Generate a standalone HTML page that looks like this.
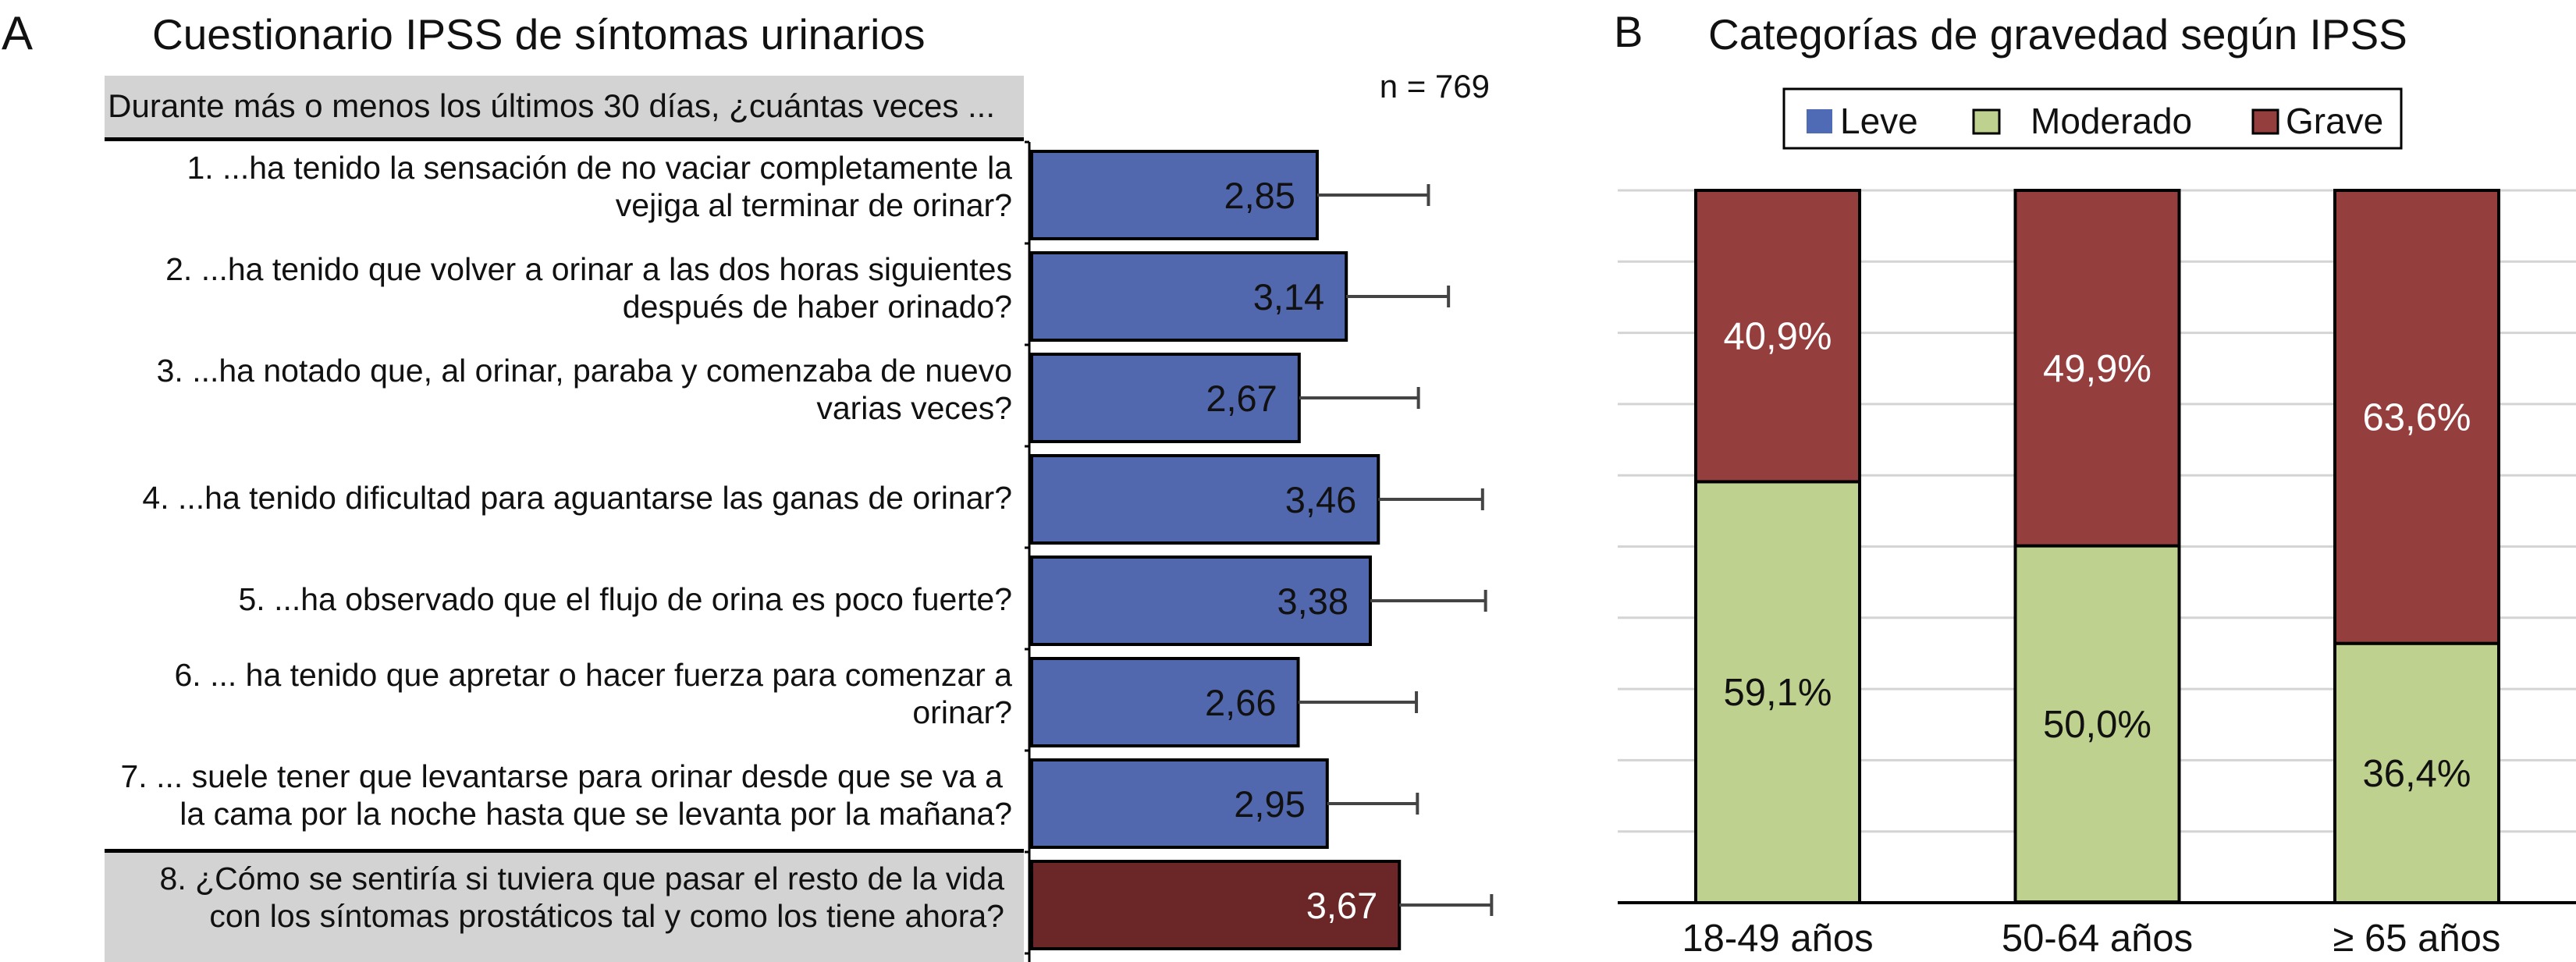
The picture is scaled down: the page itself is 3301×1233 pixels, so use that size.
<!DOCTYPE html>
<html><head><meta charset="utf-8"><style>
html,body{margin:0;padding:0;background:#fff;}
svg{display:block;font-family:"Liberation Sans",Arial,sans-serif;}
</style></head><body>
<svg id="chart" width="3301" height="1233" viewBox="0 0 3301 1233" xmlns="http://www.w3.org/2000/svg">
<g id="panelA">
 <text x="2" y="63" font-size="60" fill="#111">A</text>
 <text x="195" y="63" font-size="55" fill="#111">Cuestionario IPSS de síntomas urinarios</text>
 <rect x="134" y="97" width="1178" height="80" fill="#d3d3d3"/>
 <rect x="134" y="176" width="1178" height="5" fill="#000"/>
 <text x="1275" y="150" font-size="42" text-anchor="end" fill="#111">Durante más o menos los últimos 30 días, ¿cuántas veces ...</text>
 <text x="1909" y="125" font-size="42" text-anchor="end" fill="#111">n = 769</text>
 <rect x="134" y="1092" width="1178" height="141" fill="#d3d3d3"/>
 <rect x="134" y="1088" width="1178" height="5" fill="#000"/>
 <g id="qlabels" font-size="41" text-anchor="end" fill="#111">
  <text x="1297" y="229">1. ...ha tenido la sensación de no vaciar completamente la</text>
  <text x="1297" y="277">vejiga al terminar de orinar?</text>
  <text x="1297" y="359">2. ...ha tenido que volver a orinar a las dos horas siguientes</text>
  <text x="1297" y="407">después de haber orinado?</text>
  <text x="1297" y="489">3. ...ha notado que, al orinar, paraba y comenzaba de nuevo</text>
  <text x="1297" y="537">varias veces?</text>
  <text x="1297" y="652">4. ...ha tenido dificultad para aguantarse las ganas de orinar?</text>
  <text x="1297" y="782">5. ...ha observado que el flujo de orina es poco fuerte?</text>
  <text x="1297" y="879">6. ... ha tenido que apretar o hacer fuerza para comenzar a</text>
  <text x="1297" y="927">orinar?</text>
  <text x="1285" y="1009">7. ... suele tener que levantarse para orinar desde que se va a</text>
  <text x="1297" y="1057">la cama por la noche hasta que se levanta por la mañana?</text>
  <text x="1287" y="1140">8. ¿Cómo se sentiría si tuviera que pasar el resto de la vida</text>
  <text x="1287" y="1188">con los síntomas prostáticos tal y como los tiene ahora?</text>
 </g>
 <g id="barsA"></g>
</g>
<g id="panelB">
 <text x="2068" y="60" font-size="56" fill="#111">B</text>
 <text x="2189" y="63" font-size="55" fill="#111">Categorías de gravedad según IPSS</text>
 <g>
  <rect x="2286" y="114" width="791" height="76" fill="#fff" stroke="#000" stroke-width="3"/>
  <rect x="2315" y="140" width="33" height="31" fill="#4f6bb5"/>
  <text x="2358" y="171" font-size="46" fill="#111">Leve</text>
  <rect x="2529" y="141" width="33" height="30" fill="#bfd18f" stroke="#000" stroke-width="3"/>
  <text x="2602" y="171" font-size="46" fill="#111">Moderado</text>
  <rect x="2887" y="141" width="32" height="30" fill="#943f3e" stroke="#000" stroke-width="3"/>
  <text x="2929" y="171" font-size="46" fill="#111">Grave</text>
 </g>
 <g id="gridB"></g>
 <g id="barsB"></g>
</g>
</svg>
<script>
// Panel A data
const itemsA = ["1","2","3","4","5","6","7","8"];
const meansA = [2.85, 3.14, 2.67, 3.46, 3.38, 2.66, 2.95, 3.67];
const errA = [1.11, 1.02, 1.19, 1.04, 1.15, 1.18, 0.90, 0.92];
const labelsA = ["2,85","3,14","2,67","3,46","3,38","2,66","2,95","3,67"];
// Panel B data
const groupsB = ["18-49 años","50-64 años","≥ 65 años"];
const leveB = [0, 0.1, 0];
const moderadoB = [59.1, 50.0, 36.4];
const graveB = [40.9, 49.9, 63.6];
const moderadoLabels = ["59,1%","50,0%","36,4%"];
const graveLabels = ["40,9%","49,9%","63,6%"];
const gridTicksB = [0,10,20,30,40,50,60,70,80,90,100];

const NS = "http://www.w3.org/2000/svg";
function mk(tag, attrs, parent){const e=document.createElementNS(NS,tag);for(const k in attrs)e.setAttribute(k,attrs[k]);parent.appendChild(e);return e;}

const x0A = 1322, pxPerUnit = 128.4, top0 = 194, pitch = 130, barH = 112;
const xA = v => x0A + v*pxPerUnit;
const yA = i => top0 + i*pitch;
const gA = document.getElementById('barsA');
const axisA = mk('line',{x1:1319,x2:1319,y1:182,y2:1233,stroke:'#000','stroke-width':3},gA);


for(let i=0;i<=itemsA.length;i++){
  const t = mk('line',{x1:1313,x2:1319,y1:182+i*pitch,y2:182+i*pitch,stroke:'#000','stroke-width':3},gA);
  
  
}
itemsA.forEach((it,i)=>{
  const y = yA(i), last = i===itemsA.length-1;
  const r = mk('rect',{x:x0A,y:y,width:xA(meansA[i])-x0A,height:barH,fill:last?'#6b2628':'#5268ae',stroke:'#000','stroke-width':4},gA);
  
  
  const cy = y+barH/2;
  const e = mk('line',{x1:xA(meansA[i]),x2:xA(meansA[i]+errA[i]),y1:cy,y2:cy,stroke:'#444','stroke-width':4},gA);
  
  
  const c = mk('line',{x1:xA(meansA[i]+errA[i]),x2:xA(meansA[i]+errA[i]),y1:cy-14,y2:cy+14,stroke:'#444','stroke-width':4},gA);
  
  
  const t = mk('text',{x:xA(meansA[i])-28,y:cy+17,'font-size':47,'text-anchor':'end',fill:last?'#fff':'#111'},gA);
  t.textContent = labelsA[i];
  
  
});

const baseB = 1157, hB = 913;
const yB = v => baseB - v/100*hB;
const centersB = i => 2278 + i*409.5;
const bw = 210;
const gG = document.getElementById('gridB');
gridTicksB.forEach(v=>{
  if(v===0) return;
  const l = mk('line',{x1:2073,x2:3301,y1:yB(v),y2:yB(v),stroke:'#d4d4d4','stroke-width':3},gG);
  
  
});
const gB = document.getElementById('barsB');
groupsB.forEach((g,i)=>{
  const x = centersB(i)-bw/2;
  const s1 = leveB[i], s2 = s1+moderadoB[i], s3 = s2+graveB[i];
  if(leveB[i]>0){
    const lb = mk('rect',{x:x,y:yB(s1),width:bw,height:yB(0)-yB(s1),fill:'#4f6bb5',stroke:'#000','stroke-width':3},gB);
    
    
  }
  const m = mk('rect',{x:x,y:yB(s2),width:bw,height:yB(s1)-yB(s2),fill:'#bfd18f',stroke:'#000','stroke-width':4},gB);
  
  
  const r = mk('rect',{x:x,y:yB(s3),width:bw,height:yB(s2)-yB(s3),fill:'#943f3e',stroke:'#000','stroke-width':4},gB);
  
  
  const tm = mk('text',{x:centersB(i),y:(yB(s1)+yB(s2))/2+17,'font-size':49,'text-anchor':'middle',fill:'#111'},gB);
  tm.textContent = moderadoLabels[i];
  
  
  const tg = mk('text',{x:centersB(i),y:(yB(s2)+yB(s3))/2+17,'font-size':49,'text-anchor':'middle',fill:'#fff'},gB);
  tg.textContent = graveLabels[i];
  
  
  const xl = mk('text',{x:centersB(i),y:1219,'font-size':49,'text-anchor':'middle',fill:'#111'},gB);
  xl.textContent = g;
  
  
});
const ax = mk('line',{x1:2073,x2:3301,y1:baseB,y2:baseB,stroke:'#000','stroke-width':4},gB);


</script>
</body></html>
